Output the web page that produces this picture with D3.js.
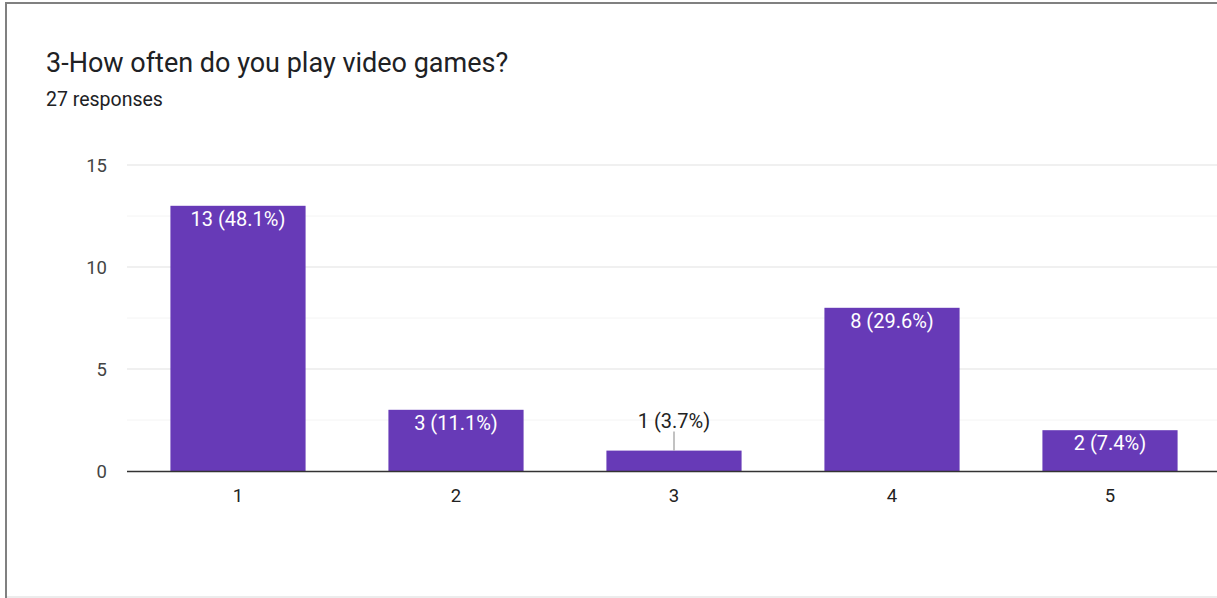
<!DOCTYPE html>
<html>
<head>
<meta charset="utf-8">
<script src="https://cdn.jsdelivr.net/npm/d3@7"></script>
<style>
  html, body { margin: 0; padding: 0; background: #fff; }
  svg { display: block; }
</style>
</head>
<body>
<svg id="chart" width="1217" height="598"></svg>
<script>
// Survey results: how often respondents play video games
const categories = ["1", "2", "3", "4", "5"];
const counts = [13, 3, 1, 8, 2];
const labels = ["13 (48.1%)", "3 (11.1%)", "1 (3.7%)", "8 (29.6%)", "2 (7.4%)"];
const yTicks = [0, 5, 10, 15];
const minorTicks = [2.5, 7.5, 12.5];
const title = "3-How often do you play video games?";
const subtitle = "27 responses";

const W = 1217, H = 598;
const svg = d3.select("#chart");
const font = "Roboto, Arial, sans-serif";

// card frame
svg.append("line").attr("x1", 6).attr("x2", 6).attr("y1", 2).attr("y2", H)
  .attr("stroke", "#808080").attr("stroke-width", 2);
svg.append("line").attr("x1", 5).attr("x2", W).attr("y1", 3).attr("y2", 3)
  .attr("stroke", "#808080").attr("stroke-width", 2);
svg.append("line").attr("x1", 7).attr("x2", W).attr("y1", 597).attr("y2", 597)
  .attr("stroke", "#e6e6e6").attr("stroke-width", 1.5);

svg.append("text").attr("x", 46).attr("y", 72)
  .attr("font-family", font).attr("font-size", 27).attr("fill", "#202124")
  .text(title);
svg.append("text").attr("x", 46).attr("y", 106)
  .attr("font-family", font).attr("font-size", 19.5).attr("fill", "#202124")
  .text(subtitle);

const plot = { left: 127, right: 1217, top: 165, bottom: 471 };

const x = d3.scaleBand().domain(categories)
  .range([plot.left + 2, plot.right + 2]).paddingInner(0.38).paddingOuter(0.19);
const y = d3.scaleLinear().domain([0, 15]).range([plot.bottom, plot.top]);

const g = svg.append("g");

// gridlines
g.selectAll("line.minor").data(minorTicks).join("line")
  .attr("x1", plot.left).attr("x2", plot.right)
  .attr("y1", d => y(d)).attr("y2", d => y(d))
  .attr("stroke", "#f4f4f4").attr("stroke-width", 1);
g.selectAll("line.major").data(yTicks.filter(d => d > 0)).join("line")
  .attr("x1", plot.left).attr("x2", plot.right)
  .attr("y1", d => y(d)).attr("y2", d => y(d))
  .attr("stroke", "#ebebeb").attr("stroke-width", 1.5);

// y axis labels
const yAxis = d3.axisLeft(y).tickValues(yTicks).tickSize(0).tickPadding(20);
const yg = svg.append("g").attr("transform", `translate(${plot.left},0)`).call(yAxis);
yg.select(".domain").remove();
yg.selectAll("text").attr("font-family", font).attr("font-size", 18.5).attr("fill", "#444")
  .attr("dy", "0.35em");

// bars
const data = categories.map((c, i) => ({ c, v: counts[i], label: labels[i] }));
g.selectAll("rect.bar").data(data).join("rect")
  .attr("x", d => x(d.c)).attr("width", x.bandwidth())
  .attr("y", d => y(d.v)).attr("height", d => y(0) - y(d.v))
  .attr("fill", "#673ab7");

// x axis
const xAxis = d3.axisBottom(x).tickSize(0).tickPadding(18);
const xg = svg.append("g").attr("transform", `translate(0,${plot.bottom})`).call(xAxis);
xg.select(".domain").attr("stroke", "#333").attr("stroke-width", 1.5)
  .attr("d", `M${plot.left},0.5H${plot.right}`);
xg.selectAll("text").attr("font-family", font).attr("font-size", 18.5).attr("fill", "#222")
  .attr("dy", "0.71em");

// value labels: inside tall bars, above short ones with a leader line
const minInside = 1.5;
data.forEach(d => {
  const cx = x(d.c) + x.bandwidth() / 2;
  if (d.v >= minInside) {
    g.append("text").attr("x", cx).attr("y", y(d.v) + 20)
      .attr("text-anchor", "middle").attr("font-family", font).attr("font-size", 20)
      .attr("fill", "#fff").text(d.label);
  } else {
    g.append("line").attr("x1", cx).attr("x2", cx)
      .attr("y1", y(d.v)).attr("y2", y(d.v) - 19)
      .attr("stroke", "#999").attr("stroke-width", 1.2);
    g.append("text").attr("x", cx).attr("y", y(d.v) - 23)
      .attr("text-anchor", "middle").attr("font-family", font).attr("font-size", 20)
      .attr("fill", "#222").text(d.label);
  }
});
</script>
</body>
</html>
